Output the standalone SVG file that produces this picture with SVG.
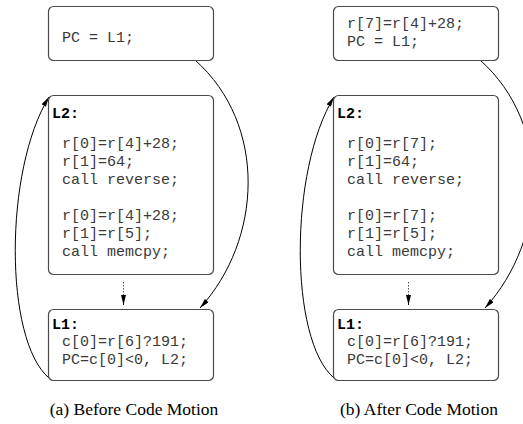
<svg xmlns="http://www.w3.org/2000/svg" width="523" height="424" viewBox="0 0 523 424">
<style>
.box{fill:#fff;stroke:#4a4a4a;stroke-width:1.2}
.code{font-family:"Liberation Mono","DejaVu Sans Mono",monospace;font-size:15px;fill:#3a3a3a}
.lbl{font-family:"Liberation Mono","DejaVu Sans Mono",monospace;font-size:15px;font-weight:bold;fill:#000}
.cap{font-family:"Liberation Serif","Times New Roman",serif;font-size:17.5px;fill:#000;text-anchor:middle}
.edge{fill:none;stroke:#000;stroke-width:1}
.dot{fill:none;stroke:#555;stroke-width:1;stroke-dasharray:1.5 1.5}
</style>
<defs>
<marker id="ah" markerUnits="userSpaceOnUse" markerWidth="11" markerHeight="6" refX="10" refY="2.5" orient="auto">
<path d="M0,0 L10,2.5 L0,5 z" fill="#000"/>
</marker>
</defs>
<rect width="523" height="424" fill="#fff"/>
<g id="connectors">
<path class="edge" d="M195,60 C268,125 262,240 200,308" marker-end="url(#ah)"/>
<path class="edge" d="M49,378 C4,340 4,170 49,97" marker-end="url(#ah)"/>
<path class="dot" d="M123.5,282 L123.5,296"/>
<path class="edge" d="M123.5,296 L123.5,305" marker-end="url(#ah)"/>
<path class="edge" d="M480,60 C553,125 547,240 485,308" marker-end="url(#ah)"/>
<path class="edge" d="M334,378 C289,340 289,170 334,97" marker-end="url(#ah)"/>
<path class="dot" d="M408.5,282 L408.5,296"/>
<path class="edge" d="M408.5,296 L408.5,305" marker-end="url(#ah)"/>
</g>
<g id="a-top">
<rect class="box" x="48.5" y="6.5" width="165" height="54" rx="5"/>
<text class="code" x="62" y="42" xml:space="preserve">PC = L1;</text>
</g>
<g id="a-L2">
<rect class="box" x="48.5" y="95.5" width="165" height="179" rx="5"/>
<text class="lbl" x="52" y="118">L2:</text>
<text class="code" x="62" y="148">r[0]=r[4]+28;</text>
<text class="code" x="62" y="166">r[1]=64;</text>
<text class="code" x="62" y="184">call reverse;</text>
<text class="code" x="62" y="220">r[0]=r[4]+28;</text>
<text class="code" x="62" y="238">r[1]=r[5];</text>
<text class="code" x="62" y="256">call memcpy;</text>
</g>
<g id="a-L1">
<rect class="box" x="48.5" y="309.5" width="165" height="71" rx="5"/>
<text class="lbl" x="52" y="329">L1:</text>
<text class="code" x="62" y="346">c[0]=r[6]?191;</text>
<text class="code" x="62" y="364">PC=c[0]&lt;0, L2;</text>
</g>
<g id="b-top">
<rect class="box" x="333.5" y="6.5" width="165" height="54" rx="5"/>
<text class="code" x="347" y="28">r[7]=r[4]+28;</text>
<text class="code" x="347" y="46" xml:space="preserve">PC = L1;</text>
</g>
<g id="b-L2">
<rect class="box" x="333.5" y="95.5" width="165" height="179" rx="5"/>
<text class="lbl" x="337" y="118">L2:</text>
<text class="code" x="347" y="148">r[0]=r[7];</text>
<text class="code" x="347" y="166">r[1]=64;</text>
<text class="code" x="347" y="184">call reverse;</text>
<text class="code" x="347" y="220">r[0]=r[7];</text>
<text class="code" x="347" y="238">r[1]=r[5];</text>
<text class="code" x="347" y="256">call memcpy;</text>
</g>
<g id="b-L1">
<rect class="box" x="333.5" y="309.5" width="165" height="71" rx="5"/>
<text class="lbl" x="337" y="329">L1:</text>
<text class="code" x="347" y="346">c[0]=r[6]?191;</text>
<text class="code" x="347" y="364">PC=c[0]&lt;0, L2;</text>
</g>
<g id="captions">
<text class="cap" x="134" y="415">(a) Before Code Motion</text>
<text class="cap" x="419" y="415">(b) After Code Motion</text>
</g>
</svg>
